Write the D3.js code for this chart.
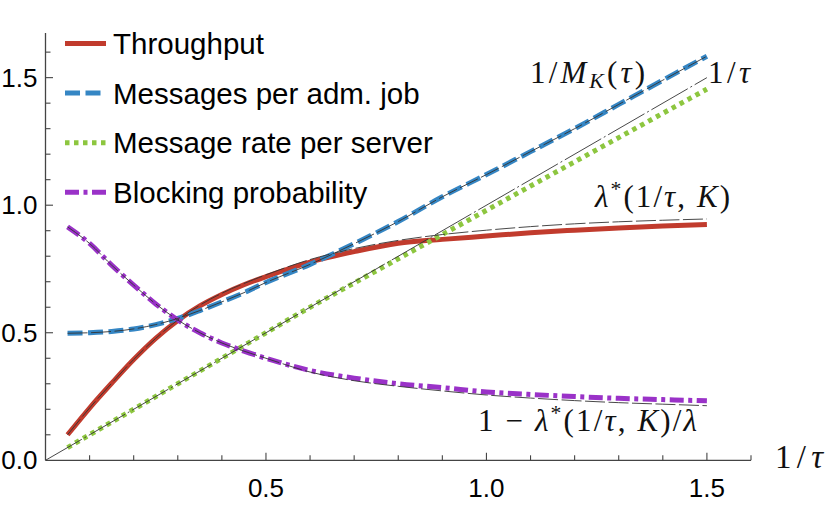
<!DOCTYPE html>
<html>
<head>
<meta charset="utf-8">
<script src="https://cdn.jsdelivr.net/npm/d3@7"></script>
<style>
  body { margin: 0; background: white; }
  svg { display: block; }
</style>
</head>
<body>
<div id="chart"></div>
<script>
// values
const xVals = [0.05, 0.1, 0.15, 0.2, 0.25, 0.3, 0.35, 0.4, 0.45, 0.5, 0.6, 0.7, 0.8, 0.9, 1.0, 1.1, 1.2, 1.3, 1.4, 1.5];
const throughput = [0.10, 0.205, 0.302, 0.395, 0.478, 0.548, 0.605, 0.65, 0.688, 0.72, 0.777, 0.818, 0.851, 0.866, 0.879, 0.892, 0.902, 0.911, 0.918, 0.924];
const msgPerJob = [0.498, 0.50, 0.505, 0.515, 0.532, 0.556, 0.587, 0.621, 0.657, 0.697, 0.768, 0.849, 0.936, 1.033, 1.12, 1.21, 1.30, 1.395, 1.49, 1.584];
const msgRate = [0.05, 0.10, 0.15, 0.20, 0.25, 0.30, 0.35, 0.40, 0.45, 0.50, 0.60, 0.695, 0.79, 0.885, 0.98, 1.075, 1.17, 1.265, 1.36, 1.455];
const blocking = [0.915, 0.85, 0.765, 0.687, 0.613, 0.55, 0.50, 0.46, 0.428, 0.40, 0.352, 0.322, 0.30, 0.285, 0.268, 0.258, 0.25, 0.243, 0.238, 0.233];

// thin reference curves
const lambdaStar = [0.10, 0.205, 0.302, 0.395, 0.478, 0.55, 0.608, 0.655, 0.693, 0.727, 0.787, 0.83, 0.862, 0.885, 0.902, 0.916, 0.927, 0.935, 0.941, 0.946];
const invMK = [0.498, 0.50, 0.505, 0.515, 0.532, 0.556, 0.587, 0.621, 0.657, 0.697, 0.768, 0.849, 0.936, 1.033, 1.12, 1.21, 1.30, 1.395, 1.49, 1.584];
const blockApprox = [0.915, 0.85, 0.765, 0.687, 0.613, 0.55, 0.50, 0.46, 0.428, 0.40, 0.346, 0.312, 0.29, 0.272, 0.256, 0.244, 0.234, 0.226, 0.22, 0.214];
const diagX = [0, 1.5];
const diagY = [0, 1.5];

const xTicks = [0.5, 1.0, 1.5];
const yTicks = [0.0, 0.5, 1.0, 1.5];
const legendNames = ["Throughput", "Messages per adm. job", "Message rate per server", "Blocking probability"];

const W = 830, H = 508;
const x0 = 45.5, x1 = 751, y0 = 460.3, y1 = 33;

const svg = d3.select("#chart").append("svg")
  .attr("width", W).attr("height", H);

const x = d3.scaleLinear().domain([0, 1.6]).range([x0, x1]);
const y = d3.scaleLinear().domain([0, 1.675]).range([y0, y1]);

const axisColor = "#444";
const isMajor = d => Math.abs(d * 2 - Math.round(d * 2)) < 1e-6;

// x axis, ticks pointing inward
const xMinor = d3.range(1, 17).map(d => d / 10);
const gx = svg.append("g").attr("transform", `translate(0,${y0})`);
gx.append("line").attr("x1", x0).attr("x2", x1).attr("stroke", axisColor).attr("stroke-width", 1.3);
gx.selectAll(".mt").data(xMinor).join("line")
  .attr("x1", d => x(d)).attr("x2", d => x(d))
  .attr("y1", 0).attr("y2", d => isMajor(d) ? -7.5 : -5)
  .attr("stroke", axisColor).attr("stroke-width", 1.1);
gx.selectAll(".lab").data(xTicks).join("text")
  .attr("x", d => x(d)).attr("y", 37)
  .attr("text-anchor", "middle")
  .attr("font-family", "Liberation Sans, Arial, sans-serif")
  .attr("font-size", 26)
  .text(d => d3.format(".1f")(d));

// y axis
const yMinor = d3.range(1, 17).map(d => d / 10);
const gy = svg.append("g").attr("transform", `translate(${x0},0)`);
gy.append("line").attr("y1", y0).attr("y2", y1).attr("stroke", axisColor).attr("stroke-width", 1.3);
gy.selectAll(".mt").data(yMinor).join("line")
  .attr("y1", d => y(d)).attr("y2", d => y(d))
  .attr("x1", 0).attr("x2", d => isMajor(d) ? 7.5 : 5)
  .attr("stroke", axisColor).attr("stroke-width", 1.1);
gy.selectAll(".lab").data(yTicks).join("text")
  .attr("x", -8).attr("y", d => y(d) + 9)
  .attr("text-anchor", "end")
  .attr("font-family", "Liberation Sans, Arial, sans-serif")
  .attr("font-size", 26)
  .text(d => d3.format(".1f")(d));

const line = d3.line().x(d => x(d[0])).y(d => y(d[1])).curve(d3.curveMonotoneX);
const zip = (xs, ys) => xs.map((v, i) => [v, ys[i]]);

const series = [
  { name: legendNames[0], vals: throughput, color: "#c13b2d", dash: null },
  { name: legendNames[1], vals: msgPerJob, color: "#3586c4", dash: "15,5.5" },
  { name: legendNames[2], vals: msgRate, color: "#8dc63f", dash: "4.5,4.5" },
  { name: legendNames[3], vals: blocking, color: "#9a32c8", dash: "14,4.5,4,4.5" }
];

// thick curves
svg.append("g").selectAll("path").data(series).join("path")
  .attr("d", d => line(zip(xVals, d.vals)))
  .attr("fill", "none")
  .attr("stroke", d => d.color)
  .attr("stroke-width", 5)
  .attr("stroke-dasharray", d => d.dash);

// thin reference curves drawn on top
const refs = [
  { xs: diagX, ys: diagY, dash: "42,3,2,3" },
  { xs: xVals, ys: lambdaStar, dash: "20,3.5" },
  { xs: xVals, ys: invMK, dash: "20,3.5" },
  { xs: xVals, ys: blockApprox, dash: "20,3.5" }
];
svg.append("g").selectAll("path").data(refs).join("path")
  .attr("d", d => line(zip(d.xs, d.ys)))
  .attr("fill", "none")
  .attr("stroke", "#333")
  .attr("stroke-width", 0.9)
  .attr("stroke-dasharray", d => d.dash);

// legend
const leg = svg.append("g");
series.forEach((s, i) => {
  const cy = 43.5 + i * 49.6;
  leg.append("line")
    .attr("x1", 65).attr("x2", 106).attr("y1", cy).attr("y2", cy)
    .attr("stroke", s.color).attr("stroke-width", 5)
    .attr("stroke-dasharray", s.dash);
  leg.append("text")
    .attr("x", 113).attr("y", cy + 10.5)
    .attr("font-family", "Liberation Sans, Arial, sans-serif")
    .attr("font-size", 29.5)
    .attr("fill", "#000")
    .text(s.name);
});

// math annotations (TeX-like labels)
const mathFont = "Liberation Serif, 'DejaVu Serif', serif";
function mathText(px, py, parts, size, len) {
  const t = svg.append("text").attr("x", px).attr("y", py)
    .attr("font-family", mathFont).attr("font-size", size).attr("fill", "#111")
    .attr("textLength", len).attr("lengthAdjust", "spacing");
  parts.forEach(p => {
    const ts = t.append("tspan").text(p.t);
    if (p.i) ts.attr("font-style", "italic");
    if (p.sub) ts.attr("font-size", size * 0.7).attr("dy", 5);
    if (p.up) ts.attr("font-size", size * 0.7).attr("dy", -11);
    if (p.dy) ts.attr("dy", p.dy);
  });
  return t;
}

mathText(530, 83, [{ t: "1/" }, { t: "M", i: true }, { t: "K", i: true, sub: true }, { t: "(", dy: -5 }, { t: "τ", i: true }, { t: ")" }], 31, 115);
mathText(708, 83, [{ t: "1/" }, { t: "τ", i: true }], 31, 42);
mathText(595, 207, [{ t: "λ", i: true }, { t: "*", up: true }, { t: "(1/", dy: 11 }, { t: "τ", i: true }, { t: ", " }, { t: "K", i: true }, { t: ")" }], 31, 135);
mathText(478, 431, [{ t: "1 − " }, { t: "λ", i: true }, { t: "*", up: true }, { t: "(1/", dy: 11 }, { t: "τ", i: true }, { t: ", " }, { t: "K", i: true }, { t: ")/" }, { t: "λ", i: true }], 31, 219);
mathText(775, 468, [{ t: "1/" }, { t: "τ", i: true }], 33, 48);
</script>
</body>
</html>
